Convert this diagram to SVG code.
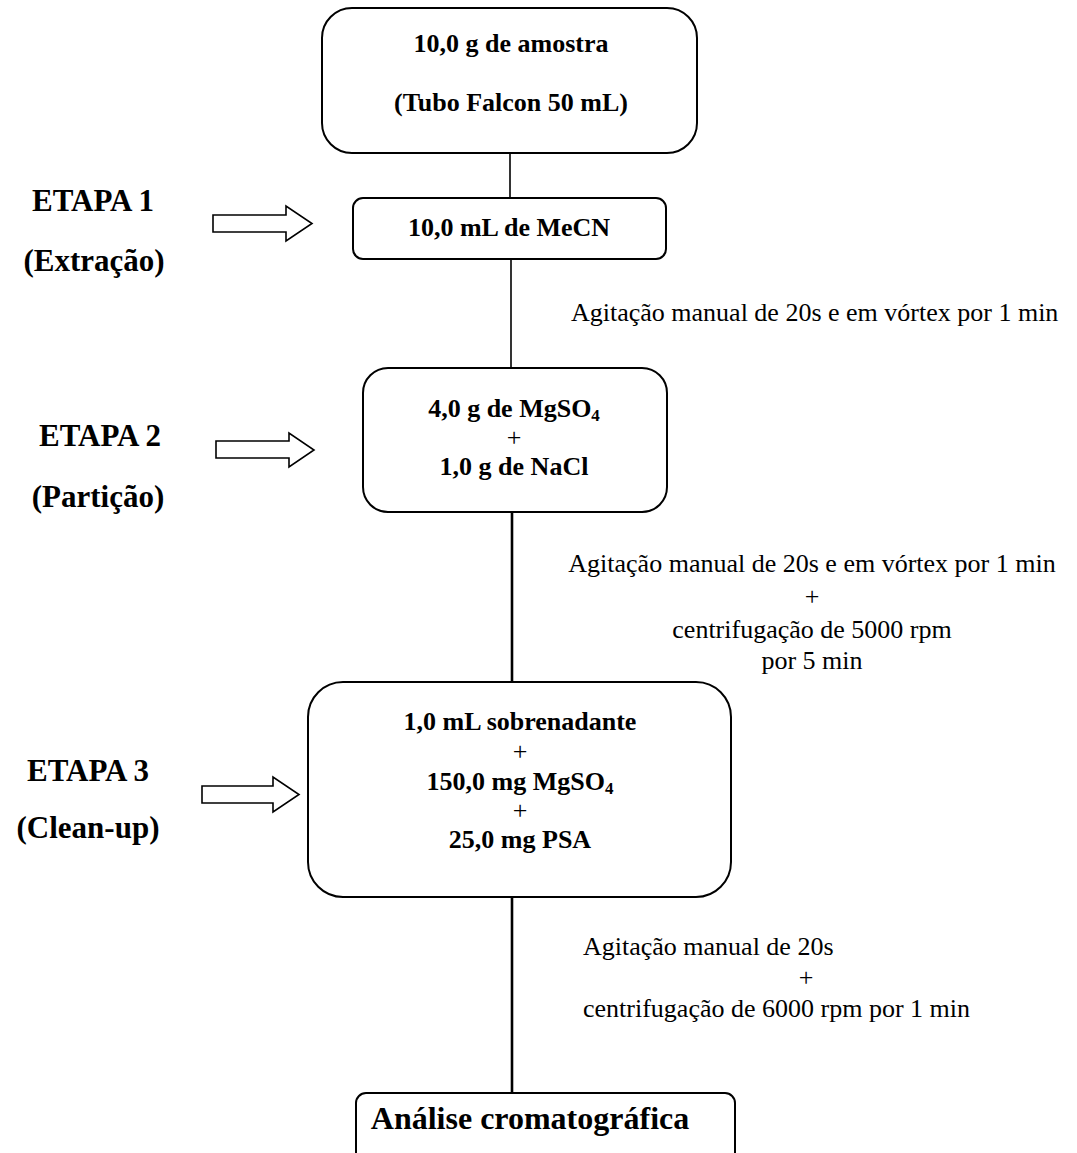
<svg xmlns="http://www.w3.org/2000/svg" width="1077" height="1153" viewBox="0 0 1077 1153">
<style>
.box{fill:#fff;stroke:#000;stroke-width:2}
.arr{fill:#fff;stroke:#000;stroke-width:1.6;stroke-linejoin:miter}
.b{font-family:'Liberation Serif',serif;font-weight:bold;font-size:26px;fill:#000;text-anchor:middle}
.big{font-size:32px}
.p{font-family:'Liberation Serif',serif;font-weight:normal;font-size:26px;fill:#000;text-anchor:middle}
.lbl{font-family:'Liberation Serif',serif;font-weight:bold;font-size:31px;fill:#000;text-anchor:middle}
.r{font-family:'Liberation Serif',serif;font-size:26px;fill:#000}
.m{text-anchor:middle}
.sub{font-size:17px}
.c{stroke:#000;fill:none}
</style>
<rect width="1077" height="1153" fill="#fff"/>
<g id="connectors">
<line class="c" x1="510" y1="153" x2="510" y2="197" stroke-width="1.6"/>
<line class="c" x1="511" y1="259" x2="511" y2="368" stroke-width="1.6"/>
<line class="c" x1="512" y1="512" x2="512" y2="682" stroke-width="2.6"/>
<line class="c" x1="512" y1="897" x2="512" y2="1093" stroke-width="2.6"/>
</g>
<g id="n-amostra">
<rect class="box" x="322" y="8" width="375" height="145" rx="30"/>
<text class="b" x="511" y="52">10,0 g de amostra</text>
<text class="b" x="511" y="111">(Tubo Falcon 50 mL)</text>
</g>
<g id="n-mecn">
<rect class="box" x="353" y="198" width="313" height="61" rx="10"/>
<text class="b" x="509" y="236">10,0 mL de MeCN</text>
</g>
<g id="n-particao">
<rect class="box" x="363" y="368" width="304" height="144" rx="25"/>
<text class="b" x="514" y="417">4,0 g de MgSO<tspan class="sub" dy="4">4</tspan></text>
<text class="p" x="514" y="446">+</text>
<text class="b" x="514" y="475">1,0 g de NaCl</text>
</g>
<g id="n-cleanup">
<rect class="box" x="308" y="682" width="423" height="215" rx="35"/>
<text class="b" x="520" y="730">1,0 mL sobrenadante</text>
<text class="p" x="520" y="760">+</text>
<text class="b" x="520" y="790">150,0 mg MgSO<tspan class="sub" dy="4">4</tspan></text>
<text class="p" x="520" y="819">+</text>
<text class="b" x="520" y="848">25,0 mg PSA</text>
</g>
<g id="n-analise">
<rect class="box" x="356" y="1093" width="379" height="80" rx="10"/>
<text class="b big" x="530" y="1129">Análise cromatográfica</text>
</g>
<g id="etapa1">
<text class="lbl" x="93" y="211">ETAPA 1</text>
<text class="lbl" x="94" y="271">(Extração)</text>
<polygon class="arr" points="213,215 286,215 286,206 312,223.5 286,241 286,232 213,232"/>
</g>
<g id="etapa2">
<text class="lbl" x="100" y="446">ETAPA 2</text>
<text class="lbl" x="98" y="507">(Partição)</text>
<polygon class="arr" points="216,441 289,441 289,433 314,450 289,467 289,458 216,458"/>
</g>
<g id="etapa3">
<text class="lbl" x="88" y="781">ETAPA 3</text>
<text class="lbl" x="88" y="838">(Clean-up)</text>
<polygon class="arr" points="202,786 273,786 273,777 299,794.5 273,812 273,803 202,803"/>
</g>
<g id="labels">
<text class="r" x="571" y="321">Agitação manual de 20s e em vórtex por 1 min</text>
<text class="r m" x="812" y="572">Agitação manual de 20s e em vórtex por 1 min</text>
<text class="r m" x="812" y="605">+</text>
<text class="r m" x="812" y="638">centrifugação de 5000 rpm</text>
<text class="r m" x="812" y="669">por 5 min</text>
<text class="r" x="583" y="955">Agitação manual de 20s</text>
<text class="r m" x="806" y="986">+</text>
<text class="r" x="583" y="1017">centrifugação de 6000 rpm por 1 min</text>
</g>
</svg>
